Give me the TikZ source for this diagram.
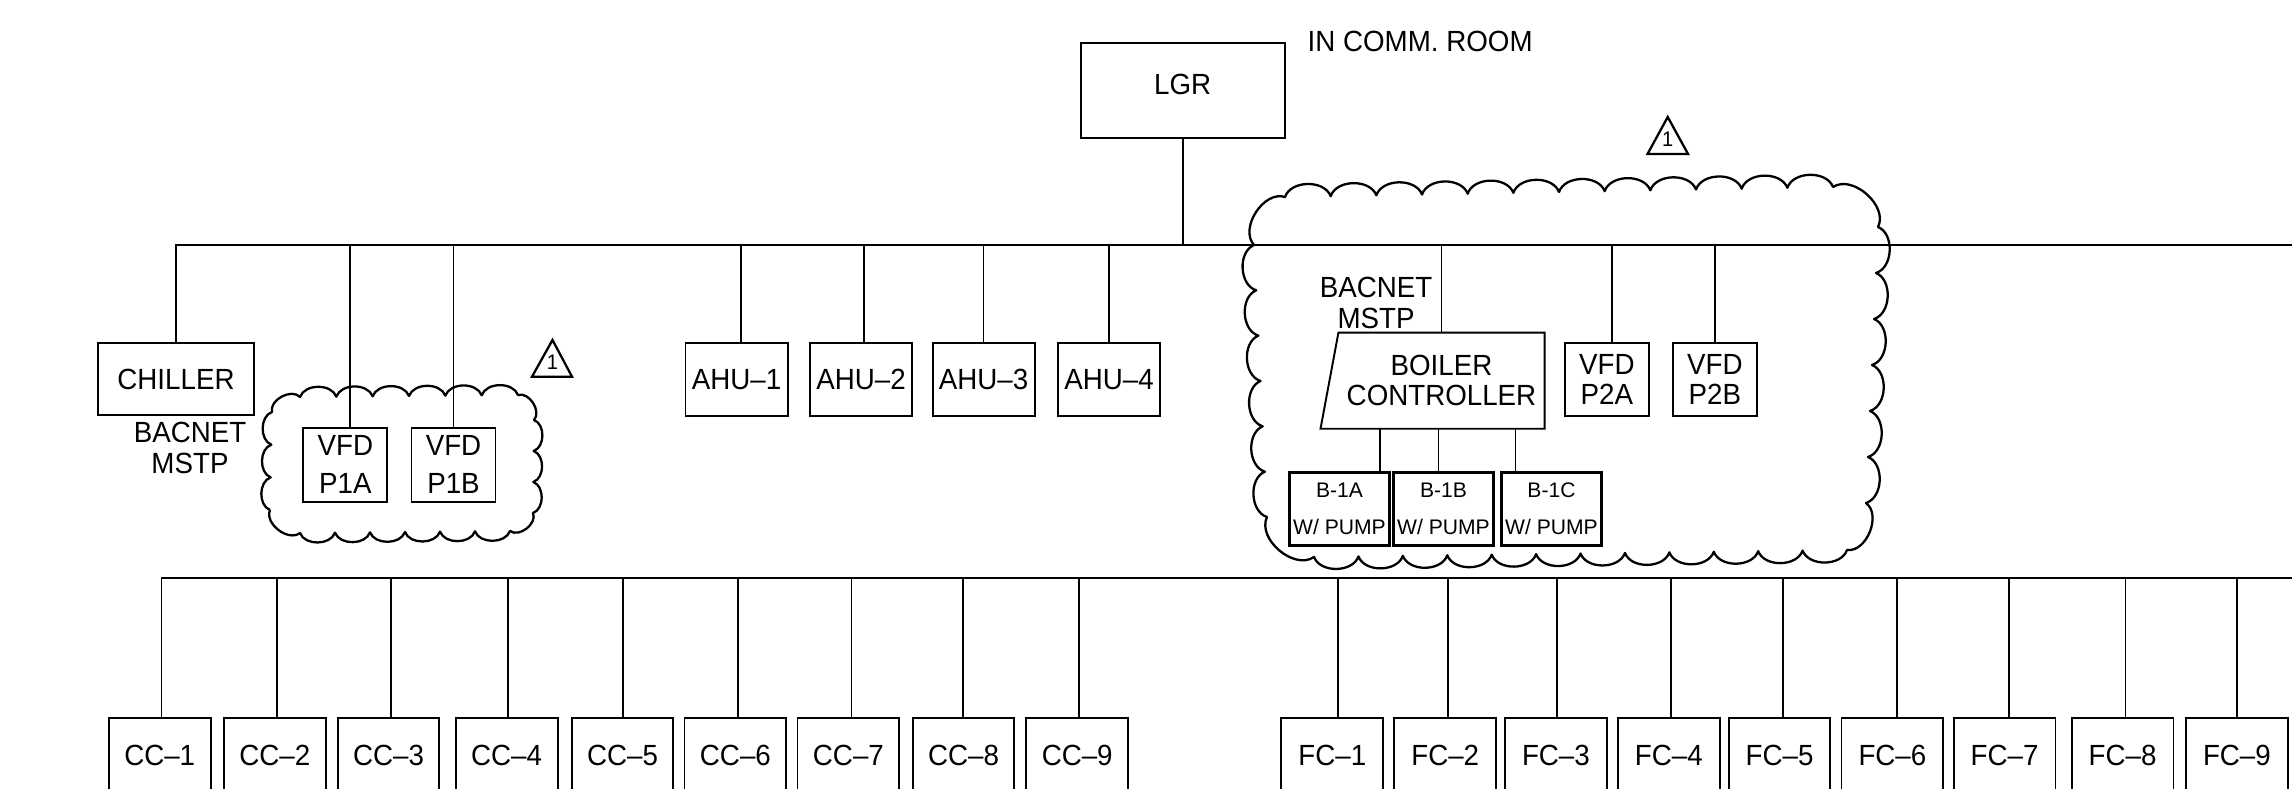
\documentclass[tikz,border=0pt]{standalone}
\usepackage{fontspec}
\setmainfont{Liberation Sans}
\newfontfamily\cadfont[FakeStretch=0.95]{Liberation Sans}
\newfontfamily\arialfont{Liberation Sans}
\usetikzlibrary{calc}
\begin{document}
\begin{tikzpicture}[x=0.01cm,y=-0.01cm,
  txt/.style={font=\cadfont\fontsize{8.3}{8.6}\selectfont, inner sep=0pt, align=center},
  box/.style={txt, draw, line width=0.55pt, anchor=north west},
  boxline/.style={line width=0.55pt, line join=miter},
  ahu/.style={minimum width=1.02cm, minimum height=0.73cm},
  vfd/.style={minimum width=0.84cm, minimum height=0.733cm},
  ccbox/.style={minimum width=1.018cm, minimum height=0.75cm},
  bbox/.style={draw, line width=0.8pt, anchor=north west, inner sep=0pt, align=center,
    font=\arialfont\fontsize{6}{7.2}\selectfont, minimum width=1cm, minimum height=0.733cm},
  wire/.style={line width=0.5pt},
  bus/.style={line width=0.6pt},
  cloud/.style={line width=0.65pt, line join=round},
  tri/.style={line width=0.65pt, line join=miter},
  num/.style={font=\cadfont\fontsize{6}{7}\selectfont, inner sep=0pt}
]
\useasboundingbox (0,0) rectangle (2292,789);
\clip (0,0) rectangle (2292,789);

% ---------- top level ----------
\node[box, minimum width=2.04cm, minimum height=0.95cm, text depth=0.12cm] (lgr) at (1079.6,42.3) {LGR};
\node[txt, anchor=base west] (comm) at (1307,52) {IN COMM. ROOM};

\coordinate (busT) at (174.5,245);
\coordinate (busTe) at (2292,245);
\draw[bus] (busT) -- (busTe);
\draw[wire] (lgr.south) -- (lgr.south |- busT);

% ---------- second row ----------
\node[box, minimum width=1.554cm, minimum height=0.72cm] (chiller) at (97.3,342.3) {CHILLER};
\node[txt] (bac1) at (190,448) {BACNET\\MSTP};

\node[box, vfd] (p1a) at (302.3,427.3) {VFD\\[2.2pt]P1A};
\node[box, vfd] (p1b) at (410.5,427.3) {VFD\\[2.2pt]P1B};

\foreach \n/\x in {1/684.5, 2/809, 3/931.6, 4/1057}
  \node[box, ahu] (ahu\n) at (\x,342) {AHU–\n};

\node[box, vfd, minimum width=0.838cm] (p2a) at (1564,341.7) {VFD\\P2A};
\node[box, vfd, minimum width=0.838cm] (p2b) at (1672,341.7) {VFD\\P2B};

\node[txt] (bac2) at (1376,303) {BACNET\\MSTP};
\node[txt, anchor=north west, minimum width=2.046cm, minimum height=0.946cm] (boiler) at (1338.4,332.7) {BOILER\\CONTROLLER};
\draw[boxline] (boiler.north west) -- (boiler.north east) -- (boiler.south east)
  -- ([xshift=-0.179cm]boiler.south west) -- cycle;

\node[bbox] (b1a) at (1288,470.7) {B-1A\\[3.3pt]W/ PUMP};
\node[bbox] (b1b) at (1392,470.7) {B-1B\\[3.3pt]W/ PUMP};
\node[bbox] (b1c) at (1500,470.7) {B-1C\\[3.3pt]W/ PUMP};

% drops from the top bus
\draw[wire] (chiller.north) -- (chiller.north |- busT);
\draw[wire] (boiler.north) -- (boiler.north |- busT);
\foreach \n/\d in {p1a/5, p1b/0, ahu1/4.5, ahu2/3, ahu3/0, ahu4/0, p2a/4.8, p2b/0}
  \draw[wire] ($(\n.north)+(\d,0)$) -- ($(\n.north |- busT)+(\d,0)$);

% boiler controller to boilers
\foreach \n/\d in {b1a/40.6, b1b/-5, b1c/-36}
  \draw[wire] ($(\n.north)+(\d,0)$) -- ($(\n.north |- boiler.south)+(\d,0)$);

% ---------- revision clouds ----------
\draw[cloud] (270,510)
  \foreach \i in {1,...,3}{ to[bend left=70] ($(270,510)!\i/3!(272,412)$) }
  to[bend left=75] (300,397)
  \foreach \i in {1,...,6}{ to[bend left=70] ($(300,397)!\i/6!(518,395)$) }
  to[bend left=75] (534,420)
  \foreach \i in {1,...,3}{ to[bend left=70] ($(534,420)!\i/3!(533,513)$) }
  to[bend left=75] (510,531)
  \foreach \i in {1,...,6}{ to[bend left=70] ($(510,531)!\i/6!(300,533)$) }
  to[bend left=75] (270,510);

\draw[cloud] (1254,245) to[bend left=75] (1285,197)
  \foreach \i in {1,...,12}{ to[bend left=70] ($(1285,197)!\i/12!(1833,187)$) }
  to[bend left=75] (1878,227)
  \foreach \i in {1,...,6}{ to[bend left=70] ($(1878,227)!\i/6!(1866,503)$) }
  to[bend left=75] (1847,550)
  \foreach \i in {1,...,12}{ to[bend left=70] ($(1847,550)!\i/12!(1314,557)$) }
  to[bend left=75] (1267,517)
  \foreach \i in {1,...,6}{ to[bend left=70] ($(1267,517)!\i/6!(1254,245)$) };

% revision triangles
\draw[tri] (532,376.7) -- (552.5,340) -- (572,376.7) -- cycle;
\node[num] (rev1) at (552.5,362) {1};
\draw[tri] (1647.5,154) -- (1667.7,117) -- (1688,154) -- cycle;
\node[num] (rev2) at (1667.7,139) {1};

% ---------- bottom row ----------
\coordinate (busB) at (160.6,578);
\coordinate (busBe) at (2292,578);
\draw[bus] (busB) -- (busBe);

\foreach \n/\x in {1/107.8, 2/223, 3/336.6, 4/454.7, 5/570.6, 6/683.5, 7/796.5, 8/911.6, 9/1025.3}
  \node[box, ccbox] (cc\n) at (\x,716.7) {CC–\n};
\foreach \n/\x in {1/1280.4, 2/1393.3, 3/1504, 4/1616.9, 5/1727.6, 6/1840.5, 7/1952.6, 8/2070.6, 9/2185}
  \node[box, ccbox] (fc\n) at (\x,716.7) {FC–\n};

\foreach \n/\d in {cc1/1.8, cc2/2.3, cc3/2.2, cc4/1.1, cc5/0.7, cc6/2.5, cc7/3, cc8/-0.4, cc9/1.5,
                   fc1/5.5, fc2/2.5, fc3/1, fc4/1.8, fc5/3.3, fc6/4.3, fc7/4.4, fc8/2.9, fc9/0.4}
  \draw[wire] ($(\n.north)+(\d,0)$) -- ($(\n.north |- busB)+(\d,0)$);
\end{tikzpicture}
\end{document}
